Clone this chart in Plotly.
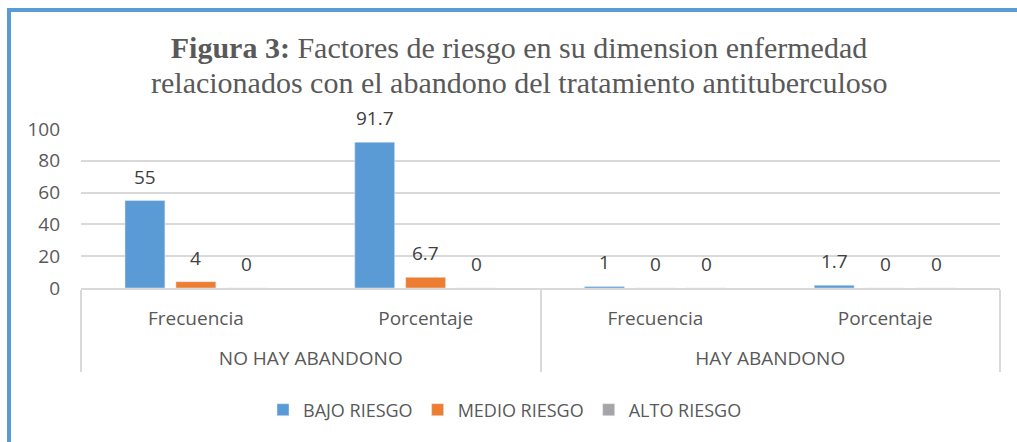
import plotly.graph_objects as go

groups = ["NO HAY ABANDONO", "NO HAY ABANDONO", "HAY ABANDONO", "HAY ABANDONO"]
measures = ["Frecuencia", "Porcentaje", "Frecuencia", "Porcentaje"]
bajo = [55, 91.7, 1, 1.7]
medio = [4, 6.7, 0, 0]
alto = [0, 0, 0, 0]
series = [("BAJO RIESGO", bajo, "#5B9BD5"),
          ("MEDIO RIESGO", medio, "#ED7D31"),
          ("ALTO RIESGO", alto, "#A5A5A5")]
title_line1 = "<b>Figura 3:</b> Factores de riesgo en su dimension enfermedad"
title_line2 = "relacionados con el abandono del tratamiento antituberculoso"

W, H = 1017, 442
L, R, T, B = 81, 17, 129, 154
ph = H - T - B
pw = W - L - R
BARGAP, GROUPGAP = 0.335, 0.216

fig = go.Figure()
for name, vals, col in series:
    fig.add_trace(go.Bar(
        name=name, x=[["<br>" + g for g in groups], measures], y=vals, marker_color=col,
        cliponaxis=False, hoverinfo="skip"))

# data labels, placed through the axis scale at each bar's centre
slot = (1 - BARGAP) / len(series)
annotations = []
for si, (name, vals, col) in enumerate(series):
    off = (si - (len(series) - 1) / 2) * slot
    for ci, v in enumerate(vals):
        annotations.append(dict(x=ci + off, y=v, xref="x", yref="y", text=f"{v:g}",
                                showarrow=False, yshift=24, yanchor="middle",
                                font=dict(family="Open Sans", size=19, color="#404040")))
annotations.append(dict(text=title_line2, xref="paper", yref="paper",
                        x=(519 - L) / pw, y=(H - B - 82) / ph, xanchor="center", yanchor="middle",
                        showarrow=False,
                        font=dict(family="Liberation Serif", size=30, color="#595959")))

font = dict(family="Open Sans", size=19, color="#595959")
fig.update_layout(
    width=W, height=H, margin=dict(l=L, r=R, t=T, b=B, autoexpand=False),
    paper_bgcolor="white", plot_bgcolor="white",
    barmode="group", bargap=BARGAP, bargroupgap=GROUPGAP,
    font=font,
    title=dict(text=title_line1,
               font=dict(family="Liberation Serif", size=30, color="#595959"),
               xref="container", x=519 / W, xanchor="center",
               yref="container", y=1 - 47 / H, yanchor="middle"),
    yaxis=dict(range=[0, 100], tickvals=[0, 20, 40, 60, 80, 100],
               showgrid=True, gridcolor="#D9D9D9", gridwidth=1.5,
               zeroline=False, showline=False, ticks="", tickfont=font,
               ticklabelstandoff=20, automargin=False),
    xaxis=dict(type="multicategory", showline=True, linecolor="#D9D9D9", linewidth=1.5,
               ticks="", showdividers=True, dividercolor="#D9D9D9", dividerwidth=1.5,
               tickfont=font, ticklabelstandoff=12, automargin=False),
    legend=dict(orientation="h", x=(505 - L) / pw, xanchor="center",
                y=(H - B - 410) / ph, yanchor="middle",
                font=dict(family="Open Sans", size=18, color="#595959"),
                traceorder="normal", itemwidth=30),
    annotations=annotations,
    shapes=[dict(type="rect", xref="paper", yref="paper",
                 x0=(9 - L) / pw, x1=(W + 20 - L) / pw,
                 y0=(H - B - (H + 20)) / ph, y1=(H - B - 10) / ph,
                 line=dict(color="#5B9BD5", width=4), fillcolor="rgba(0,0,0,0)",
                 layer="above")],
)
fig.write_html("out.html", config={"displayModeBar": False},
               post_script="document.body.style.margin='0';")
